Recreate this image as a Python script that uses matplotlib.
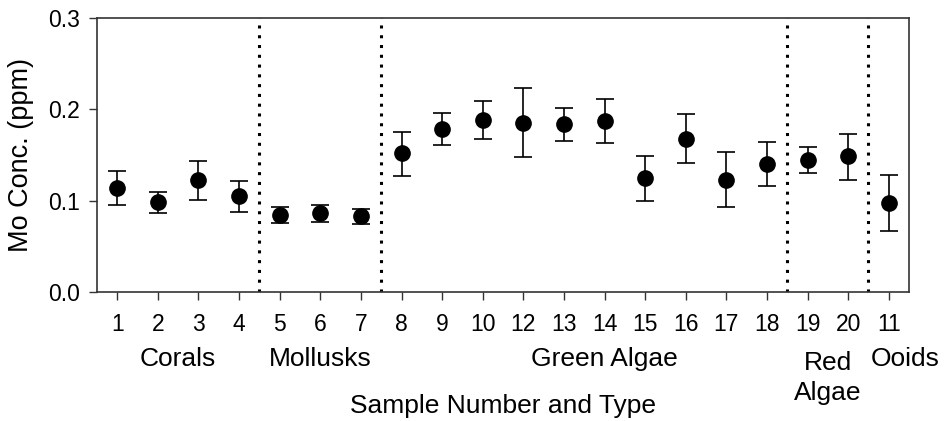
import matplotlib
matplotlib.use("Agg")
import matplotlib.pyplot as plt

plt.rcParams["font.family"] = ["Liberation Sans", "DejaVu Sans"]

# sample labels in plotted order
sample_labels = ["1", "2", "3", "4", "5", "6", "7", "8", "9", "10", "12", "13",
                 "14", "15", "16", "17", "18", "19", "20", "11"]
mo_conc = [0.114, 0.099, 0.123, 0.105, 0.084, 0.086, 0.083, 0.152, 0.179, 0.188,
           0.185, 0.184, 0.187, 0.125, 0.168, 0.123, 0.140, 0.144, 0.149, 0.097]
err_low = [0.095, 0.087, 0.101, 0.088, 0.076, 0.077, 0.075, 0.127, 0.161, 0.167,
           0.148, 0.165, 0.163, 0.100, 0.141, 0.093, 0.116, 0.130, 0.123, 0.067]
err_high = [0.133, 0.110, 0.143, 0.122, 0.093, 0.095, 0.091, 0.175, 0.196, 0.209,
            0.223, 0.202, 0.211, 0.149, 0.195, 0.153, 0.164, 0.159, 0.173, 0.128]

group_names = ["Corals", "Mollusks", "Green Algae", "Red\nAlgae", "Ooids"]
group_centers = [2.5, 6, 13, 18.5, 20.4]
group_bounds = [4.5, 7.5, 17.5, 19.5]

x = list(range(1, len(sample_labels) + 1))
yerr = [[m - lo for m, lo in zip(mo_conc, err_low)],
        [hi - m for m, hi in zip(mo_conc, err_high)]]

fig = plt.figure(figsize=(9.46, 4.21), dpi=100)
ax = fig.add_axes([0.1025, 0.3064, 0.8585, 0.6508])

ax.errorbar(x, mo_conc, yerr=yerr, fmt="o", color="black", ms=11,
            elinewidth=1.2, capsize=6.5, capthick=1.2, zorder=3)

for b in group_bounds:
    ax.axvline(b, color="black", lw=2.2, ls=(0, (1, 2.2)), zorder=2)

ax.set_xlim(0.5, 20.5)
ax.set_ylim(0, 0.3)
ax.set_yticks([0.0, 0.1, 0.2, 0.3])
ax.set_yticklabels(["0.0", "0.1", "0.2", "0.3"])
ax.set_xticks(x)
ax.set_xticklabels(sample_labels)
ax.tick_params(axis="both", direction="out", length=6, width=1, labelsize=16.5,
               color="#333333")
ax.tick_params(axis="x", pad=9)
ax.tick_params(axis="y", pad=6)
for s in ax.spines.values():
    s.set_color("#333333")
    s.set_linewidth(1.2)

ax.set_ylabel("Mo Conc. (ppm)", fontsize=19.5)
ax.yaxis.set_label_coords(-0.077, 0.5)

tr = ax.get_xaxis_transform()
for name, cx in zip(group_names, group_centers):
    if "\n" in name:
        ax.text(cx, -0.215, name, transform=tr, ha="center", va="top",
                fontsize=19, linespacing=1.3)
    else:
        ax.text(cx, -0.245, name, transform=tr, ha="center", va="center",
                fontsize=19)
ax.text(10.5, -0.415, "Sample Number and Type", transform=tr, ha="center",
        va="center", fontsize=19)

fig.savefig("out.png", dpi=100)
